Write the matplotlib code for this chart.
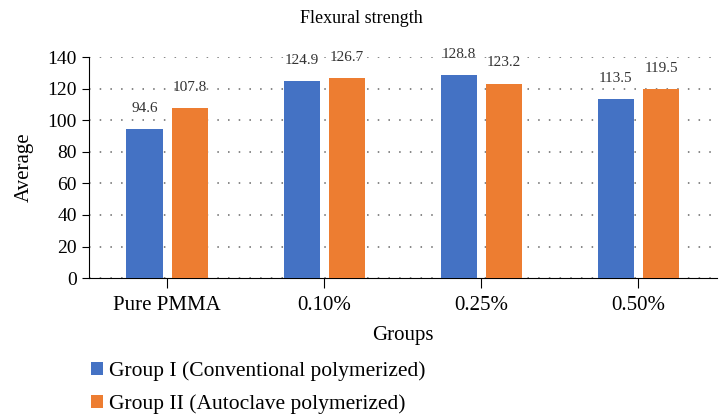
import matplotlib
matplotlib.use('Agg')
import matplotlib.pyplot as plt
import numpy as np

groups = ['Pure PMMA', '0.10%', '0.25%', '0.50%']
group1 = [94.6, 124.9, 128.8, 113.5]
group2 = [107.8, 126.7, 123.2, 119.5]
labels = ['Group I (Conventional polymerized)', 'Group II (Autoclave polymerized)']

plt.rcParams['font.family'] = ['Liberation Serif', 'DejaVu Serif']

blue = '#4472C4'
orange = '#ED7D31'

fig = plt.figure(figsize=(7.22, 4.17), dpi=100)
ax = fig.add_axes([0.123, 0.333, 0.870, 0.530])

x = np.arange(len(groups))
w = 0.23
b1 = ax.bar(x - 0.145, group1, w, color=blue, label=labels[0], zorder=3)
b2 = ax.bar(x + 0.145, group2, w, color=orange, label=labels[1], zorder=3)

for bars, vals in ((b1, group1), (b2, group2)):
    for r, v in zip(bars, vals):
        ax.text(r.get_x() + r.get_width() / 2, v + 9, '%.1f' % v,
                ha='center', va='bottom', fontsize=11, color='#333333')

ax.set_xlim(-0.5, 3.5)
ax.set_ylim(0, 140)
ax.set_yticks(range(0, 141, 20))
ax.set_xticks(x)
ax.set_xticklabels(groups)
ax.tick_params(axis='y', labelsize=14, length=5, direction='out')
ax.tick_params(axis='x', labelsize=15, length=7, direction='out', pad=6)
ax.yaxis.grid(True, linestyle=(0, (1, 6)), color='#666666', linewidth=1.1, zorder=0)

ax.spines['top'].set_visible(False)
ax.spines['right'].set_visible(False)

ax.set_ylabel('Average', fontsize=15, labelpad=10)
ax.set_xlabel('Groups', fontsize=15, labelpad=8)
fig.suptitle('Flexural strength', fontsize=13, y=0.975)

fig.legend(loc='upper left', bbox_to_anchor=(0.114, 0.155), frameon=False,
           fontsize=15.5, handlelength=0.55, handleheight=0.55, handletextpad=0.3,
           labelspacing=0.62, borderaxespad=0)

fig.savefig('out.png', dpi=100)
